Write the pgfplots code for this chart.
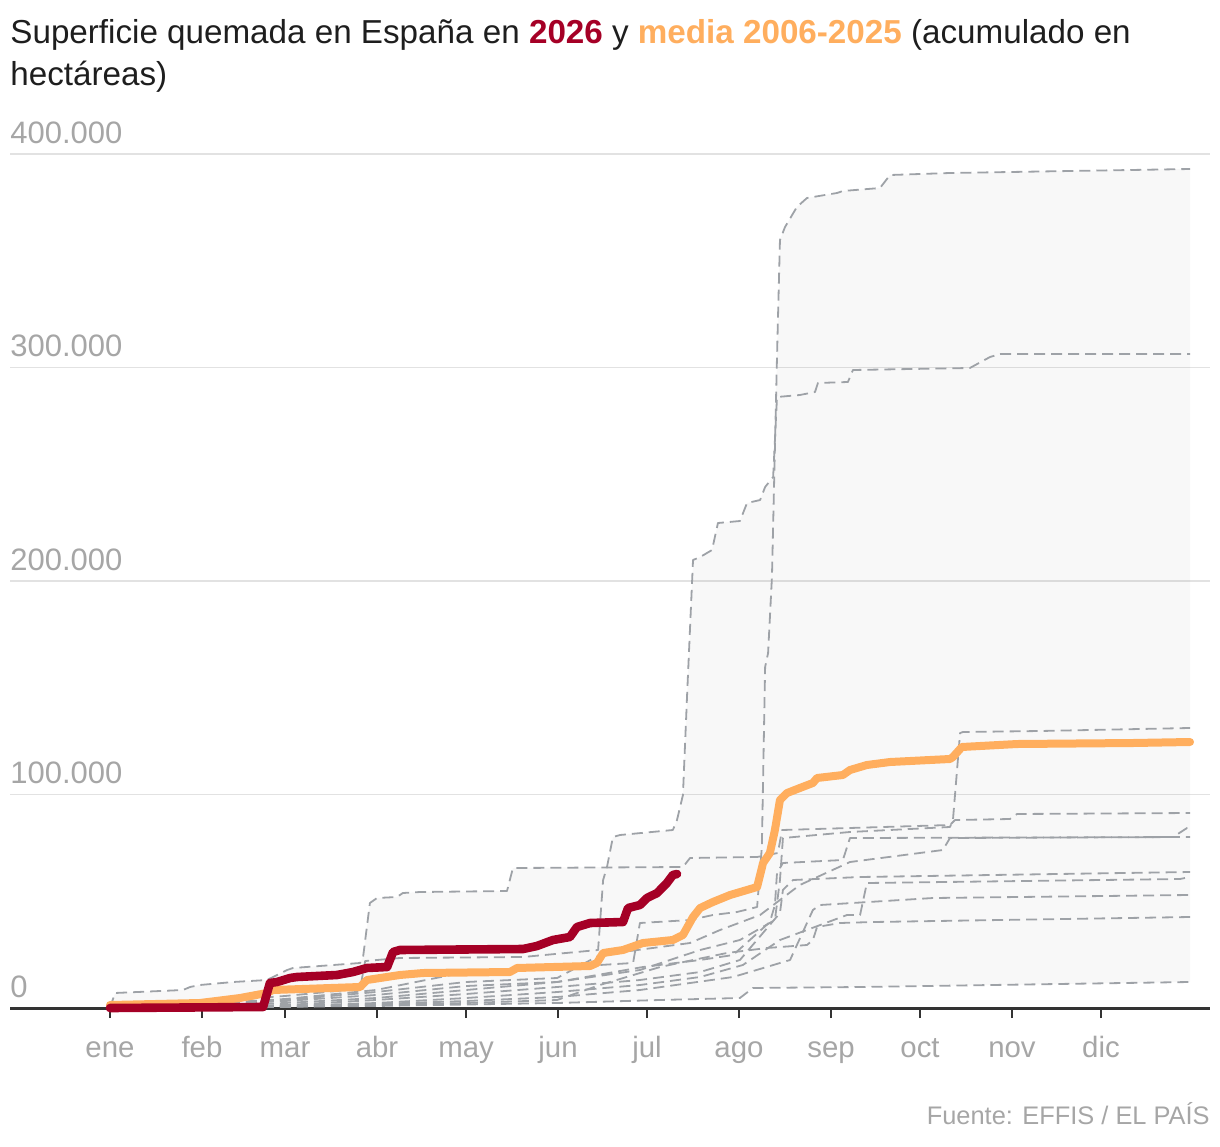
\documentclass[border=0pt]{standalone}
\usepackage{pgfplots}
\pgfplotsset{compat=1.18}
\usepackage{fontspec}
\setmainfont{Liberation Sans}
\definecolor{red26}{HTML}{A50026}
\definecolor{orng}{HTML}{FFAE5E}
\definecolor{dsh}{HTML}{9EA2A7}
\definecolor{lbl}{HTML}{A6A6A6}
\definecolor{grd}{HTML}{E2E2E2}
\definecolor{ttl}{HTML}{1E1E1E}
\begin{document}
\begin{tikzpicture}
\begin{axis}[
 name=ax,
 scale only axis, width=600pt, height=427pt,
 xmin=-33.7, xmax=370.74, ymin=0, ymax=400000,
 clip=false,
 scaled y ticks=false,
 axis x line*=bottom, axis y line*=left,
 y axis line style={draw=none},
 x axis line style={draw=black!80, line width=1.5pt, -},
 xtick={0,31,59,90,120,151,181,212,243,273,304,334},
 xticklabels={ene,feb,mar,abr,may,jun,jul,ago,sep,oct,nov,dic},
 xtick align=outside, major tick length=5pt,
 xtick style={draw=black!80, line width=0.9pt},
 ytick={0,100000,200000,300000,400000},
 yticklabels={0,100.000,200.000,300.000,400.000},
 ytick style={draw=none},
 ymajorgrids, grid style={grd, line width=0.8pt},
 yticklabel style={anchor=south west, inner sep=0pt, yshift=5pt, font=\fontsize{15.5}{15.5}\selectfont, text=lbl},
 xticklabel style={anchor=base, inner sep=0pt, yshift=-19.5pt, font=\fontsize{14.7}{14.7}\selectfont, text=lbl},
 dl/.style={dsh, line width=0.9pt, dash pattern=on 5.5pt off 3pt, line join=round},
]
% envelope (max / min of the yearly series)
\addplot[draw=none, fill=black, fill opacity=0.028] coordinates {
(0,0) (1.7,7030) (24.6,8430) (27.0,9840) (30.3,10770) (41.5,12180) (52.9,13110) (59.7,17800) (61.7,18740) (84.3,21080) (85.3,23890) (87.6,49180) (90.0,51520) (96.7,51990) (98.7,53860) (104.5,54330) (133.8,54800) (135.8,65570) (167.5,66040) (169.5,80090) (171.9,81030) (189.7,83370) (191.1,88060) (193.1,99760) (194.5,146600) (196.5,209830) (198.9,211230) (202.9,214510) (204.9,227160) (212.3,228100) (214.7,236530) (219.1,237930) (220.8,244030) (223.5,248710) (224.8,304920) (225.8,359720) (227.5,365800) (231.5,375170) (234.9,379390) (245.0,381730) (247.0,382670) (259.5,384070) (262.9,390160) (283.1,391100) (364.0,392970)
(364.0,12180) (252.8,9840) (216.7,9370) (212.3,4680) (185.4,3750) (150.7,2340) (89.6,940) (0,0)
};
% yearly series (dashed)
\addplot[dl] coordinates {(0,0) (30.3,1870) (59.0,4220) (89.6,8430) (120.0,16860) (150.7,18740) (165.1,20140) (176.3,21080) (178.6,39810) (195.5,41220) (203.2,43560) (211.3,44960) (218.1,47310) (219.7,75410) (220.8,159720) (221.8,166270) (223.1,201870) (224.8,304920) (225.8,359720) (227.5,365800) (231.5,375170) (234.9,379390) (245.0,381730) (247.0,382670) (259.5,384070) (262.9,390160) (283.1,391100) (364.0,392970)};
\addplot[dl] coordinates {(0,0) (30.3,2810) (59.0,5620) (84.3,9000) (86.0,22000) (97.7,23420) (139.2,23890) (164.5,27170) (166.2,59950) (167.5,66040) (169.5,80090) (171.9,81030) (189.7,83370) (191.1,88060) (193.1,99760) (194.5,146600) (196.5,209830) (198.9,211230) (202.9,214510) (204.9,227160) (212.3,228100) (214.7,236530) (219.1,237930) (220.8,244030) (223.5,248710) (224.8,286180) (232.5,287120) (237.6,288520) (238.6,292740) (248.7,293210) (250.4,298830) (289.8,299770) (296.6,304920) (300.0,306320) (364.0,306320)};
\addplot[dl] coordinates {(0,0) (1.7,7030) (24.6,8430) (27.0,9840) (30.3,10770) (41.5,12180) (52.9,13110) (59.7,17800) (61.7,18740) (84.3,21080) (85.3,23890) (87.6,49180) (90.0,51520) (96.7,51990) (98.7,53860) (104.5,54330) (133.8,54800) (135.8,65570) (193.1,66040) (195.5,70260) (218.1,70730) (225.1,72600) (226.5,83370) (283.1,85710) (284.8,88060) (303.3,88520) (305.7,90870) (364.0,91330)};
\addplot[dl] coordinates {(0,0) (30.3,1400) (59.0,3280) (89.6,6090) (120.0,10300) (150.7,12180) (178.6,17800) (198.9,27170) (212.3,31850) (224.1,41220) (225.8,59950) (226.8,79620) (249.4,82440) (283.1,84780) (284.1,88060) (286.5,128800) (287.5,129270) (313.4,129740) (364.0,131150)};
\addplot[dl] coordinates {(0,0) (30.3,1400) (59.0,3750) (89.6,7490) (120.0,12180) (150.7,14050) (165.1,24820) (195.5,30440) (205.6,36530) (219.1,43560) (232.5,57610) (249.4,68380) (280.7,74000) (283.1,79620) (358.3,80090) (363.0,84310) (364.0,84310)};
\addplot[dl] coordinates {(0,0) (30.3,940) (59.0,2340) (89.6,4680) (120.0,8430) (150.7,12180) (179.6,19200) (198.9,22480) (210.0,24820) (222.4,40280) (224.1,48240) (224.8,63230) (226.8,67920) (247.0,69320) (249.4,79620) (364.0,80090)};
\addplot[dl] coordinates {(0,0) (59.0,1400) (89.6,3750) (120.0,6560) (150.7,9840) (178.6,13110) (198.9,16860) (212.3,22480) (225.8,44500) (226.8,55270) (230.2,59950) (252.8,61360) (364.0,63700)};
\addplot[dl] coordinates {(0,0) (59.0,940) (89.6,2340) (120.0,4680) (150.7,7490) (178.6,10770) (198.9,14520) (213.3,20140) (225.8,31850) (248.4,43560) (252.8,43560) (255.1,58550) (360.6,60420) (364.0,61360)};
\addplot[dl] coordinates {(0,0) (59.0,940) (89.6,1870) (120.0,3280) (150.7,5150) (178.6,8430) (210.0,14520) (229.2,22480) (236.9,45900) (239.3,48240) (277.4,51520) (364.0,52930)};
\addplot[dl] coordinates {(0,0) (59.0,470) (89.6,1400) (120.0,2340) (150.7,3750) (165.1,10770) (185.4,19200) (196.5,22480) (207.9,25760) (221.4,28100) (234.9,29510) (236.9,31850) (238.3,37940) (246.0,39810) (257.2,40280) (364.0,42620)};
\addplot[dl] coordinates {(0,0) (89.6,940) (150.7,2340) (185.4,3750) (212.3,4680) (216.7,9370) (252.8,9840) (364.0,12180)};
% media 2006-2025
\addplot[orng, line width=4pt, line cap=round, line join=round] coordinates {
(0,1400) (30.3,2340) (43.8,4680) (52.9,7030) (54.9,8430) (84.3,9840) (86.6,13110) (97.7,15460) (105.5,16390) (134.8,16860) (137.2,18740) (161.8,19670) (164.1,21080) (166.2,25760) (172.9,27170) (179.6,30440) (189.7,31850) (193.1,34190) (196.5,42620) (198.9,46840) (203.2,49650) (209.0,52930) (218.1,56670) (220.1,67920) (222.4,72600) (224.1,83370) (225.8,97420) (228.2,100700) (232.5,103040) (236.9,105390) (238.3,107730) (247.0,109130) (249.4,111470) (255.1,113820) (262.9,115220) (283.1,116630) (284.1,117560) (287.1,122250) (305.7,123650) (344.8,124120) (364.0,124590)};
% 2026
\addplot[red26, line width=4.3pt, line cap=round, line join=round] coordinates {
(0,0) (51.6,470) (53.9,11710) (56.3,12180) (60.7,14050) (63.0,14520) (76.5,15460) (81.9,16860) (86.6,18740) (93.4,19200) (95.4,26230) (97.7,27170) (139.2,27630) (143.9,29040) (149.3,31850) (155.0,33250) (157.4,37940) (161.8,39810) (172.9,40280) (174.6,46840) (178.6,48240) (181.0,51520) (184.4,53860) (187.7,58550) (189.7,62290) (191.1,62760)};
\end{axis}
\node[anchor=base west, inner sep=0pt, font=\fontsize{16.6}{21}\selectfont, text=ttl] at ([yshift=482pt]ax.south west) {Superficie quemada en España en \textbf{\color{red26}2026} y \textbf{\color{orng}media 2006-2025} (acumulado en};
\node[anchor=base west, inner sep=0pt, font=\fontsize{16.6}{21}\selectfont, text=ttl] at ([yshift=461pt]ax.south west) {hectáreas)};
\node[anchor=base east, inner sep=0pt, font=\fontsize{12.7}{12.7}\selectfont, text=lbl] at ([yshift=-58pt]ax.south east) {Fuente: EFFIS / EL PAÍS};
\pgfresetboundingbox
\path[use as bounding box] ([shift={(-5pt,-69pt)}]ax.south west) rectangle ++(610pt,573pt);
\end{tikzpicture}
\end{document}
